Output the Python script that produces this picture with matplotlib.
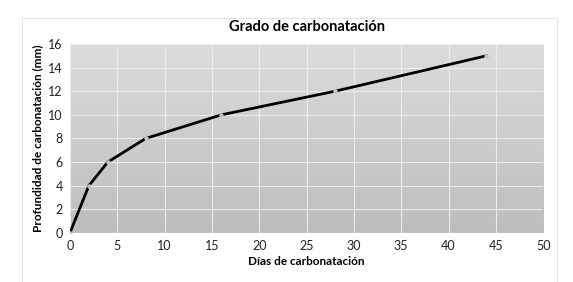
import numpy as np
import matplotlib
matplotlib.use('Agg')
import matplotlib.pyplot as plt
from matplotlib.colors import LinearSegmentedColormap

dias = [0, 2, 4, 8, 16, 28, 44]
profundidad = [0, 4, 6, 8, 10, 12, 15]
xticks = list(range(0, 51, 5))
yticks = list(range(0, 17, 2))

plt.rcParams['font.family'] = ['Lato', 'DejaVu Sans']

fig = plt.figure(figsize=(5.73, 2.82), dpi=100)
ax = fig.add_axes([0.122, 0.174, 0.826, 0.670])

# fondo degradado del area de trazado (claro arriba, oscuro abajo)
grad = np.linspace(0, 1, 256).reshape(-1, 1)
cmap = LinearSegmentedColormap.from_list('g', ['#dcdcdc', '#bdbdbd'])
ax.imshow(grad, cmap=cmap, aspect='auto', extent=[0, 50, 0, 16],
          origin='upper', zorder=0, interpolation='bicubic')

ax.set_xlim(0, 50)
ax.set_ylim(0, 16)
ax.set_xticks(xticks)
ax.set_yticks(yticks)
ax.grid(True, color='#ececec', linewidth=0.8, zorder=1)
ax.set_axisbelow(False)

ax.plot(dias, profundidad, color='black', linewidth=2, zorder=3)
ax.plot(dias, profundidad, linestyle='none', marker='o', markersize=2.2,
        color='#c4c4c4', zorder=4)

for s in ax.spines.values():
    s.set_visible(False)
ax.tick_params(length=0, labelsize=9, colors='#222222', pad=5)

ax.set_title('Grado de carbonatación', fontsize=10.5, fontweight='bold', pad=9)
ax.set_xlabel('Días de carbonatación', fontsize=8.5, fontweight='bold', labelpad=3)
ax.set_ylabel('Profundidad de carbonatación (mm)', fontsize=8.5, fontweight='bold', labelpad=4)

# marco del grafico
fig.add_artist(plt.Rectangle((0.038, -0.01), 0.934, 0.946, transform=fig.transFigure,
                             fill=False, edgecolor='#e4e4e4', linewidth=0.8))

fig.savefig('out.png', dpi=100)
